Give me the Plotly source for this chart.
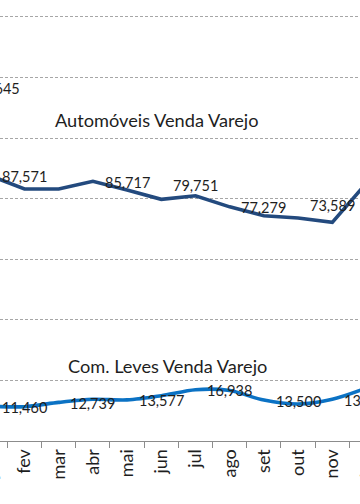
import plotly.graph_objects as go

categories = ['jan', 'fev', 'mar', 'abr', 'mai', 'jun', 'jul', 'ago', 'set', 'out', 'nov', 'dez']
auto_values = [87571, 83160, 83160, 85717, 82830, 79751, 80950, 77279, 74350, 73589, 72170, 85140]
com_values = [11460, 11320, 12739, 13760, 13577, 14950, 16938, 16670, 13500, 12210, 13760, 17490]

# labelled points (label drawn one category to the right of its point, as in the original)
auto_label_idx = [0, 3, 5, 7, 9]
com_label_idx = [0, 2, 4, 6, 8, 10]
auto_label_shift = [-1, -1, 14, -1, 13]
com_label_shift = [-1, -1, -1, -1, -1, -1]

stray_label = '116,645'
stray_label_value = 116490

title_auto = 'Automóveis Venda Varejo'
title_com = 'Com. Leves Venda Varejo'

FONT = 'Lato'
TXT = '#1e1e1e'
W, H = 360, 504
MB = 63
px_per_cat = 34.2
x0 = 0.284
x1 = x0 + W / px_per_cat
ymax = (H - MB) * 20000 / 60.6

fig = go.Figure()
fig.add_trace(go.Scatter(x=categories, y=auto_values, mode='lines',
                         line=dict(color='#234a7e', width=3.6), hoverinfo='skip'))
fig.add_trace(go.Scatter(x=categories, y=com_values, mode='lines',
                         line=dict(color='#0b72c4', width=3.6, shape='spline', smoothing=0.8),
                         hoverinfo='skip'))

lab_font = dict(family=FONT, size=14.5, color=TXT)
ann = []
for i, s in zip(auto_label_idx, auto_label_shift):
    ann.append(dict(x=i + 1, y=auto_values[i], xref='x', yref='y', text=f'{auto_values[i]:,}',
                    xanchor='center', yanchor='middle', showarrow=False, yshift=s, font=lab_font))
for i, s in zip(com_label_idx, com_label_shift):
    xp = (i + 1 - x0) / (x1 - x0)
    ann.append(dict(x=xp, y=com_values[i], xref='paper', yref='y', text=f'{com_values[i]:,}',
                    xanchor='center', yanchor='middle', showarrow=False, yshift=s, font=lab_font))
ann.append(dict(x=22 / W, y=stray_label_value, xref='paper', yref='y', text=stray_label,
                xanchor='right', yanchor='middle', showarrow=False, font=lab_font))
ann.append(dict(x=156 / W, y=(H - MB - 120) / (H - MB), xref='paper', yref='paper', text=title_auto,
                xanchor='center', yanchor='middle', showarrow=False,
                font=dict(family=FONT, size=18.2, color=TXT)))
ann.append(dict(x=167 / W, y=(H - MB - 366) / (H - MB), xref='paper', yref='paper', text=title_com,
                xanchor='center', yanchor='middle', showarrow=False,
                font=dict(family=FONT, size=18.2, color=TXT)))
# partially visible first/last month labels
for i in (0, 11):
    xp = (i - x0) / (x1 - x0)
    ann.append(dict(x=xp, y=-12 / (H - MB), xref='paper', yref='paper', text=categories[i],
                    textangle=-90, xanchor='center', yanchor='top', showarrow=False,
                    font=dict(family=FONT, size=18, color=TXT)))

fig.update_layout(
    width=W, height=H, margin=dict(l=0, r=0, t=0, b=MB),
    paper_bgcolor='white', plot_bgcolor='white', showlegend=False,
    annotations=ann,
    xaxis=dict(type='category', range=[x0, x1], tickson='boundaries', ticks='outside',
               ticklen=6, tickcolor='#8c8c8c', showline=True, linecolor='#8c8c8c', linewidth=1,
               showgrid=False, tickangle=-90,
               tickfont=dict(family=FONT, size=18, color=TXT)),
    yaxis=dict(range=[0, ymax], dtick=20000, showgrid=True, gridcolor='#a6a6a6',
               griddash='3px,2px', gridwidth=1, showticklabels=False, zeroline=False,
               showline=False, ticks=''),
)
fig.write_html('out.html', config={'displayModeBar': False},
               post_script="document.body.style.margin='0';document.body.style.overflow='hidden';")
